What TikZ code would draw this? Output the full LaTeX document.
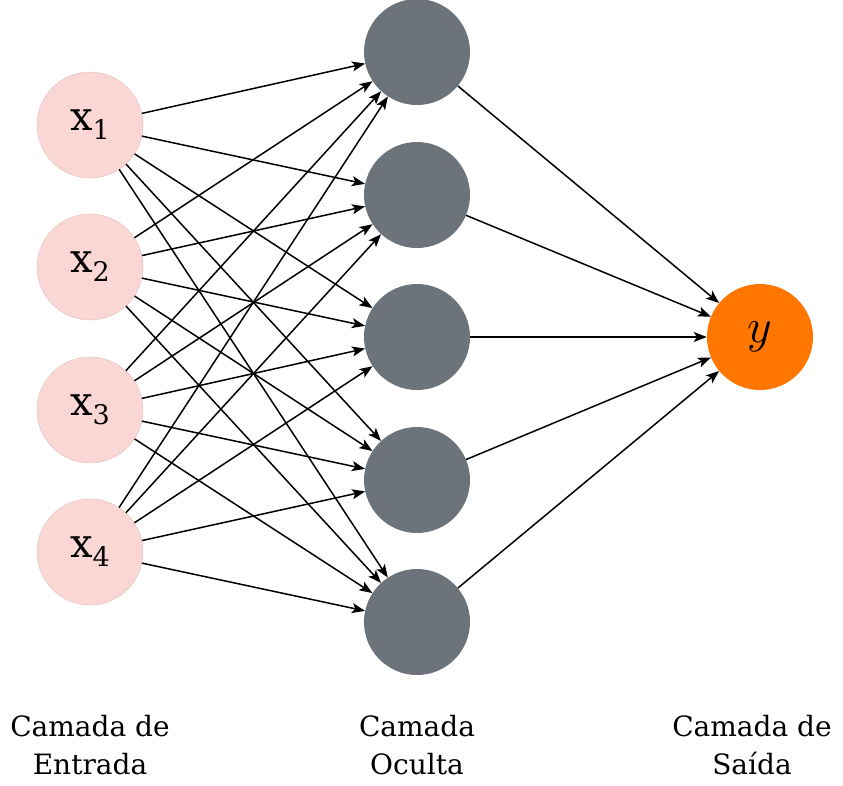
\documentclass[tikz,border=0pt]{standalone}
\usepackage{fix-cm}
\usepackage{fontspec}
\setmainfont{DejaVu Serif}
\usetikzlibrary{arrows.meta}

\definecolor{inputpink}{HTML}{FAD7D4}
\definecolor{hiddengrey}{HTML}{6D737A}
\definecolor{outputorange}{HTML}{FF7700}

\begin{document}
\begin{tikzpicture}[x = 1pt, y = -1pt, >={Stealth[length = 13pt, width = 10pt, inset = 3pt]},
		neuron/.style = {circle, minimum size = 106pt, inner sep = 0pt},
		layerlabel/.style = {align = center, font = \fontsize{28}{38}\selectfont}]
			\useasboundingbox (0,0) rectangle (843,785);

			\begin{scope}
				\foreach \i/\y in {1/125,2/267,3/410,4/552}
				{
					\node [neuron, fill = inputpink, draw = inputpink!85!black, line width = 0.3pt] (In\i) at (90,\y)
						{\fontsize{40}{40}\selectfont x\raisebox{-9pt}{\fontsize{27}{27}\selectfont\i}};
				}

				\foreach \j/\y in {1/52,2/195,3/337,4/480,5/622}
				{
					\node [neuron, fill = hiddengrey] (Hid\j) at (417,\y) {};
				}

				\node [neuron, fill = outputorange] (Out) at (760,337) {\fontsize{48}{48}\selectfont$y$};
			\end{scope}

			\begin{scope}[line width = 1.5pt]
				\foreach \i in {1,...,4}
				{
					\foreach \j in {1,...,5}
					{
						\draw [->] (In\i) to (Hid\j);
					}
				}

				\foreach \j in {1,...,5}
				{
					\draw [->] (Hid\j) to (Out);
				}
			\end{scope}

			\begin{scope}
				\node [layerlabel] (InLabel) at (90,745) {Camada de\\Entrada};
				\node [layerlabel] (HidLabel) at (417,745) {Camada\\Oculta};
				\node [layerlabel] (OutLabel) at (752,745) {Camada de\\Saída};
			\end{scope}
		\end{tikzpicture}
\end{document}
